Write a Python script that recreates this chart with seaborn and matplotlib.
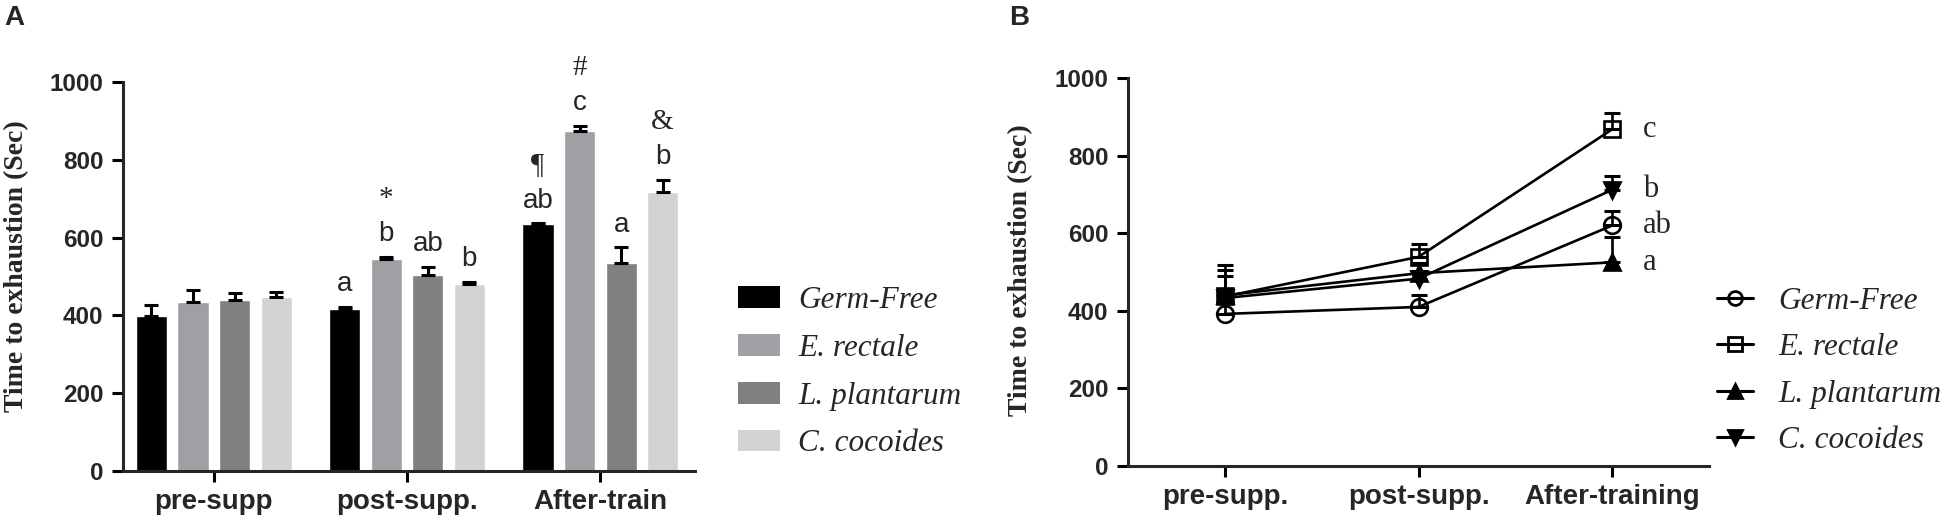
import numpy as np
import pandas as pd
import matplotlib
matplotlib.use("Agg")
import matplotlib.pyplot as plt
import seaborn as sns
from matplotlib.lines import Line2D
from matplotlib.patches import Patch
from matplotlib.container import BarContainer

# groups and colours
groups = ["Germ-Free", "E. rectale", "L. plantarum", "C. cocoides"]
bar_colors = ["#000000", "#a0a0a4", "#808080", "#d3d3d3"]

# Panel A - bars (mean, upper SEM)
phases_a = ["pre-supp", "post-supp.", "After-train"]
gf_a = [398, 416, 634]
er_a = [435, 545, 875]
lp_a = [440, 503, 534]
cc_a = [446, 480, 718]
gf_a_err = [29, 6, 3]
er_a_err = [29, 6, 12]
lp_a_err = [18, 22, 41]
cc_a_err = [14, 6, 30]
letters_a = [["", "a", "ab"], ["", "b", "c"], ["", "ab", "a"], ["", "b", "b"]]
symbols_a = [["", "", "¶"], ["", "*", "#"], ["", "", ""], ["", "", "&"]]

# Panel B - lines (mean, upper SEM)
phases_b = ["pre-supp.", "post-supp.", "After-training"]
gf_b = [392, 410, 620]
er_b = [437, 539, 868]
lp_b = [440, 497, 525]
cc_b = [433, 483, 712]
gf_b_err = [35, 30, 37]
er_b_err = [80, 34, 42]
lp_b_err = [64, 25, 65]
cc_b_err = [58, 20, 35]
letters_b = ["ab", "c", "a", "b"]
markers_b = ["o", "s", "^", "v"]
filled_b = [False, False, True, True]

vals_a = [gf_a, er_a, lp_a, cc_a]
errs_a = [gf_a_err, er_a_err, lp_a_err, cc_a_err]
vals_b = [gf_b, er_b, lp_b, cc_b]
errs_b = [gf_b_err, er_b_err, lp_b_err, cc_b_err]

sns.set_style("ticks")
plt.rcParams["font.family"] = ["Liberation Sans", "DejaVu Sans"]
plt.rcParams["axes.linewidth"] = 2.2

SANS = ["Liberation Sans", "DejaVu Sans"]
SERIF = ["Liberation Serif", "DejaVu Serif"]

fig = plt.figure(figsize=(19.55, 5.28), dpi=100)
ax1 = fig.add_axes([0.0629, 0.1080, 0.2926, 0.7367])
ax2 = fig.add_axes([0.577, 0.1174, 0.2972, 0.7348])

# ---------- Panel A ----------
df_a = pd.DataFrame({
    "phase": np.tile(phases_a, len(groups)),
    "group": np.repeat(groups, len(phases_a)),
    "value": np.concatenate(vals_a),
})
sns.barplot(data=df_a, x="phase", y="value", hue="group", hue_order=groups,
            order=phases_a, palette=bar_colors, saturation=1, errorbar=None,
            width=0.86, gap=0.25, legend=False, ax=ax1)

bar_conts = [c for c in ax1.containers if isinstance(c, BarContainer)]
for i, cont in enumerate(bar_conts):
    xs = [p.get_x() + p.get_width() / 2 for p in cont.patches]
    tops = [p.get_height() for p in cont.patches]
    ax1.errorbar(xs, tops, yerr=[np.zeros(len(tops)), errs_a[i]], fmt="none",
                 ecolor="black", elinewidth=2.2, capsize=4.7, capthick=2.2, zorder=3)
    for j, (x, t) in enumerate(zip(xs, tops)):
        base = t + errs_a[i][j] + 40
        if letters_a[i][j]:
            ax1.text(x, base, letters_a[i][j], ha="center", va="baseline",
                     fontsize=20, family=SANS)
        if symbols_a[i][j]:
            ax1.text(x, base + 90, symbols_a[i][j], ha="center", va="baseline",
                     fontsize=21, family=SERIF)

ax1.set_xlim(-0.47, 2.49)
ax1.set_ylim(0, 1000)
ax1.set_yticks([0, 200, 400, 600, 800, 1000])
ax1.set_xlabel("")

# ---------- Panel B ----------
for i, g in enumerate(groups):
    sns.lineplot(x=phases_b, y=vals_b[i], sort=False, color="black",
                 marker=markers_b[i], markersize=12, markeredgewidth=1.9,
                 markerfacecolor="black" if filled_b[i] else "none",
                 markeredgecolor="black", linewidth=1.9, ax=ax2, zorder=4)
xpos_b = ax2.xaxis.convert_units(phases_b)
for i, g in enumerate(groups):
    ax2.errorbar(xpos_b, vals_b[i], yerr=[np.zeros(3), errs_b[i]], fmt="none",
                 ecolor="black", elinewidth=1.9, capsize=6, capthick=2.2, zorder=3)
    ax2.text(xpos_b[-1] + 0.16, vals_b[i][-1], letters_b[i], ha="left", va="center",
             fontsize=22, family=SERIF)

ax2.set_xlim(-0.5, 2.5)
ax2.set_ylim(0, 1000)
ax2.set_yticks([0, 200, 400, 600, 800, 1000])

# ---------- shared styling ----------
for ax, lab_x, lab_y in [(ax1, -0.164, 0.526), (ax2, -0.1635, 0.505)]:
    sns.despine(ax=ax)
    ax.tick_params(axis="both", width=2.2, length=8, color="black")
    ax.tick_params(axis="y", pad=6)
    ax.tick_params(axis="x", pad=5)
    for t in ax.get_yticklabels():
        t.set_fontsize(17.5)
        t.set_fontweight("bold")
        t.set_family(SANS)
    for t in ax.get_xticklabels():
        t.set_fontsize(20)
        t.set_fontweight("bold")
        t.set_family(SANS)
    ax.set_ylabel("Time to exhaustion (Sec)", fontsize=20, fontweight="bold",
                  family=SERIF)
    ax.yaxis.set_label_coords(lab_x, lab_y)
    ax.set_xlabel("")

# legends
leg_font = {"family": SERIF, "style": "italic", "size": 22.5}
handles_a = [Patch(facecolor=c, edgecolor="none") for c in bar_colors]
fig.legend(handles_a, groups, loc="upper left", bbox_to_anchor=(0.3775, 0.458),
           frameon=False, prop=leg_font, handlelength=1.34, handleheight=0.7,
           handletextpad=0.58, labelspacing=0.6, borderpad=0, borderaxespad=0)

handles_b = [Line2D([0], [0], color="black", lw=2.2, marker=m, markersize=10,
                    markeredgewidth=2, markerfacecolor="black" if f else "none",
                    markeredgecolor="black")
             for m, f in zip(markers_b, filled_b)]
fig.legend(handles_b, groups, loc="upper left", bbox_to_anchor=(0.8783, 0.456),
           frameon=False, prop=leg_font, handlelength=1.15,
           handletextpad=0.8, labelspacing=0.55, borderpad=0, borderaxespad=0)

fig.text(0.002, 0.99, "A", fontsize=20, fontweight="bold", va="top", family=SANS)
fig.text(0.516, 0.99, "B", fontsize=20, fontweight="bold", va="top", family=SANS)

fig.savefig("out.png", dpi=100)
